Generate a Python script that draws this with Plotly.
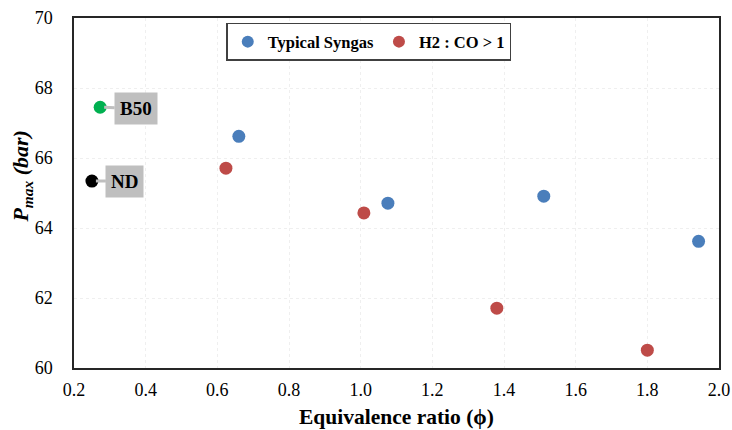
import plotly.graph_objects as go

syngas_phi = [0.66, 1.076, 1.511, 1.943]
syngas_p = [66.62, 64.71, 64.91, 63.62]
h2co_phi = [0.624, 1.009, 1.38, 1.80]
h2co_p = [65.71, 64.43, 61.71, 60.51]
b50_phi = [0.273]
b50_p = [67.45]
nd_phi = [0.25]
nd_p = [65.34]

FONT = "Liberation Serif"

fig = go.Figure()
fig.add_trace(go.Scatter(x=syngas_phi, y=syngas_p, mode="markers", name="Typical Syngas",
                         marker=dict(color="#4a7ebb", size=13)))
fig.add_trace(go.Scatter(x=h2co_phi, y=h2co_p, mode="markers", name="H2 : CO > 1",
                         marker=dict(color="#be4b48", size=13)))
fig.add_trace(go.Scatter(x=b50_phi, y=b50_p, mode="markers", name="B50", showlegend=False,
                         marker=dict(color="#00b050", size=13)))
fig.add_trace(go.Scatter(x=nd_phi, y=nd_p, mode="markers", name="ND", showlegend=False,
                         marker=dict(color="#000000", size=13)))

for txt, px, py, ax, ay in [("B50", b50_phi[0], b50_p[0], 36, 1), ("ND", nd_phi[0], nd_p[0], 33, 0)]:
    fig.add_annotation(x=px, y=py, text="<b>%s</b>" % txt, showarrow=True, arrowhead=0,
                       arrowcolor="#bfbfbf", arrowwidth=3, ax=ax, ay=ay, standoff=4,
                       bgcolor="#bfbfbf", borderpad=5,
                       font=dict(family=FONT, size=19, color="#000000"))

# axis titles
fig.add_annotation(x=0.5, y=-0.141, xref="paper", yref="paper", xanchor="center", yanchor="middle",
                   text="<b>Equivalence ratio (ϕ)</b>", showarrow=False,
                   font=dict(family=FONT, size=21.5, color="#000000"))
fig.add_annotation(x=-0.081, y=0.549, xref="paper", yref="paper", xanchor="center", yanchor="middle",
                   text="<b><i>P<sub>max</sub> (bar)</i></b>", showarrow=False, textangle=-90,
                   font=dict(family=FONT, size=22, color="#000000"))

fig.update_layout(
    width=732, height=430,
    margin=dict(l=74, r=13, t=18, b=62, autoexpand=False),
    paper_bgcolor="white", plot_bgcolor="white",
    font=dict(family=FONT, size=18, color="#000000"),
    legend=dict(orientation="h", x=0.457, y=0.986, xanchor="center", yanchor="top",
                bordercolor="#404040", borderwidth=1.5, bgcolor="white",
                font=dict(family=FONT, size=16.5, weight="bold"),
                itemsizing="constant", itemwidth=30),
    showlegend=True,
)
fig.update_xaxes(range=[0.2, 2.0], dtick=0.2, tickformat=".1f", automargin=False,
                 showline=True, linecolor="#262626", linewidth=1.5, mirror=True,
                 showgrid=True, gridcolor="#efefef", griddash="dot", zeroline=False,
                 ticks="", tickfont=dict(family=FONT, size=18), ticklabelstandoff=5,
                 ticklabeloverflow="allow")
fig.update_yaxes(range=[60, 70], dtick=2, automargin=False,
                 showline=True, linecolor="#262626", linewidth=1.5, mirror=True,
                 showgrid=True, gridcolor="#efefef", griddash="dot", zeroline=False,
                 ticks="", tickfont=dict(family=FONT, size=18), ticklabelstandoff=16,
                 ticklabeloverflow="allow")

fig.write_html("out.html", config={"displayModeBar": False},
               post_script="document.body.style.margin='0px';")
